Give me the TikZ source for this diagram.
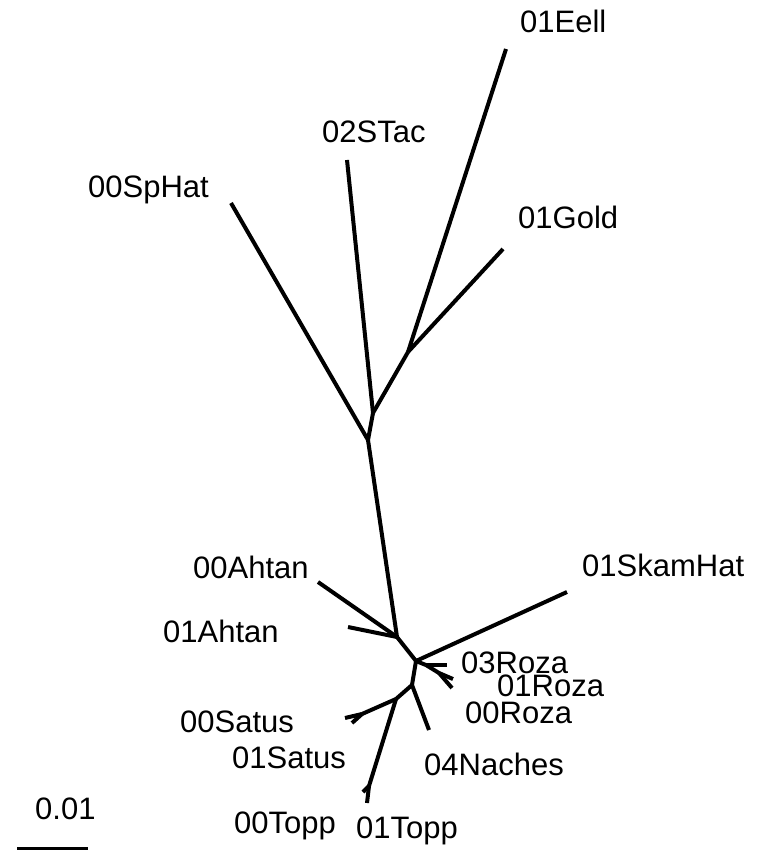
\documentclass[tikz,border=0pt]{standalone}
\usepackage{fontspec}
\setmainfont{Liberation Sans}
\begin{document}
\begin{tikzpicture}[x=1pt,y=-1pt,
  branch/.style={line width=4pt,line join=round},
  taxon/.style={anchor=base west,inner sep=0pt,font=\fontsize{31}{31}\selectfont},
  scalebar/.style={line width=3pt}]
\useasboundingbox (0,0) rectangle (762,850);
% internal vertices
\coordinate (A) at (368,440);
\coordinate (B) at (373,413);
\coordinate (C) at (408,352);
\coordinate (D) at (397,637);
\coordinate (E) at (416,661);
\coordinate (R1) at (426,665);
\coordinate (R2) at (439,673);
\coordinate (G) at (412,685);
\coordinate (H) at (396,699);
\coordinate (S) at (362,714);
\coordinate (T) at (369,786);
% leaves
\coordinate (SpHat) at (231,203);
\coordinate (STac) at (347,160);
\coordinate (Eell) at (506,49);
\coordinate (Gold) at (503,249);
\coordinate (Ahtan0) at (318,582);
\coordinate (Ahtan1) at (348,627);
\coordinate (Skam) at (567,592);
\coordinate (Roza3) at (447,665);
\coordinate (Roza1) at (453,679);
\coordinate (Roza0) at (452,688);
\coordinate (Naches) at (429,730);
\coordinate (Satus0) at (345,718);
\coordinate (Satus1) at (352,723);
\coordinate (Topp0) at (363,792);
\coordinate (Topp1) at (367,803);
% branches
\draw[branch] (SpHat) -- (A);
\draw[branch] (A) -- (B);
\draw[branch] (STac) -- (B);
\draw[branch] (B) -- (C);
\draw[branch] (C) -- (Eell);
\draw[branch] (C) -- (Gold);
\draw[branch] (A) -- (D);
\draw[branch] (Ahtan0) -- (D);
\draw[branch] (Ahtan1) -- (D);
\draw[branch] (D) -- (E);
\draw[branch] (E) -- (Skam);
\draw[branch] (E) -- (R1);
\draw[branch] (R1) -- (Roza3);
\draw[branch] (R1) -- (R2);
\draw[branch] (R2) -- (Roza0);
\draw[branch] (R2) -- (Roza1);
\draw[branch] (E) -- (G);
\draw[branch] (G) -- (Naches);
\draw[branch] (G) -- (H);
\draw[branch] (H) -- (S);
\draw[branch] (S) -- (Satus0);
\draw[branch] (S) -- (Satus1);
\draw[branch] (H) -- (T);
\draw[branch] (T) -- (Topp0);
\draw[branch] (T) -- (Topp1);
% labels
\node[taxon] (lEell) at (520,33) {01Eell};
\node[taxon] (lSTac) at (322,143) {02STac};
\node[taxon] (lSpHat) at (88,197) {00SpHat};
\node[taxon] (lGold) at (518,229) {01Gold};
\node[taxon] (lAhtan0) at (193,578) {00Ahtan};
\node[taxon] (lSkam) at (582,576) {01SkamHat};
\node[taxon] (lAhtan1) at (163,642) {01Ahtan};
\node[taxon] (lRoza3) at (461,673) {03Roza};
\node[taxon] (lRoza1) at (497,696) {01Roza};
\node[taxon] (lRoza0) at (465,723) {00Roza};
\node[taxon] (lSatus0) at (180,732) {00Satus};
\node[taxon] (lSatus1) at (232,768) {01Satus};
\node[taxon] (lNaches) at (424,775) {04Naches};
\node[taxon] (lTopp0) at (234,833) {00Topp};
\node[taxon] (lTopp1) at (356,838) {01Topp};
% scale
\node[taxon] (lScale) at (35,819) {0.01};
\coordinate (s0) at (17,848);
\coordinate (s1) at (88,848);
\draw[scalebar] (s0) -- (s1);
\end{tikzpicture}
\end{document}
